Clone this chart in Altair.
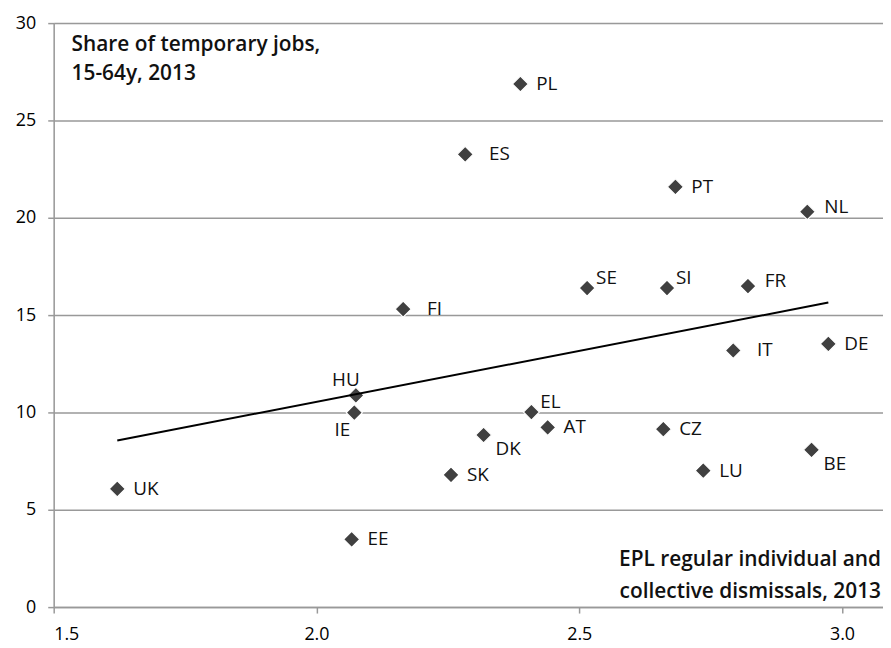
import altair as alt
import pandas as pd

countries = ["PL", "ES", "PT", "NL", "SE", "SI", "FR", "FI", "IT", "DE", "HU",
             "IE", "EL", "AT", "DK", "CZ", "BE", "LU", "SK", "UK", "EE"]
epl = [2.388, 2.283, 2.683, 2.934, 2.515, 2.667, 2.821, 2.165, 2.793, 2.974, 2.075,
       2.072, 2.409, 2.440, 2.318, 2.660, 2.942, 2.736, 2.256, 1.621, 2.067]
temp = [26.87, 23.26, 21.59, 20.31, 16.39, 16.39, 16.49, 15.31, 13.18, 13.52, 10.88,
        9.99, 10.02, 9.23, 8.84, 9.14, 8.08, 7.01, 6.79, 6.07, 3.48]

x_ticks = [1.5, 2.0, 2.5, 3.0]
y_ticks = [0, 5, 10, 15, 20, 25, 30]
title_lines = ["Share of temporary jobs,", "15-64y, 2013"]
xlabel_lines = ["EPL regular individual and", "collective dismissals, 2013"]

# which side of its marker each country label sits on
label_groups = {
    "right": ["PL", "PT", "DE", "CZ", "LU", "SK", "UK", "EE", "AT"],
    "right_far": ["ES", "IT", "FI"],
    "right_up": ["FR", "NL"],
    "up_right": ["SE", "SI", "EL"],
    "down_right": ["BE", "DK"],
    "above": ["HU"],
    "below": ["IE"],
}
placement = {
    "right": ("left", 16, 0),
    "right_far": ("left", 24, 0),
    "right_up": ("left", 17, -5),
    "up_right": ("left", 9, -10),
    "down_right": ("left", 12, 14),
    "above": ("center", -10, -15),
    "below": ("center", -12, 18),
}

FONT = "Open Sans"
GRID = "#999999"

df = pd.DataFrame({"country": countries, "epl": epl, "temp": temp})
group_of = {c: g for g, cs in label_groups.items() for c in cs}
df["group"] = df["country"].map(group_of)

W, H = 835, 588
xscale = alt.Scale(domain=[1.5, 3.078], nice=False, zero=False)
yscale = alt.Scale(domain=[0, 30], nice=False)

base = alt.Chart(df)

xenc = alt.X("epl:Q", scale=xscale,
             axis=alt.Axis(values=x_ticks, format=".1f", grid=False, title=None,
                           domainColor=GRID, domainWidth=1.5, tickColor=GRID,
                           tickWidth=1.5, tickSize=6, labelPadding=13,
                           labelFont=FONT, labelFontSize=18, labelColor="#000"))
yenc = alt.Y("temp:Q", scale=yscale,
             axis=alt.Axis(values=y_ticks, grid=True, gridColor=GRID, gridWidth=1.5,
                           title=None, domainColor=GRID, domainWidth=1.5,
                           tickColor=GRID, tickWidth=1.5, tickSize=6, labelPadding=12,
                           labelFont=FONT, labelFontSize=18, labelColor="#000"))

points = base.mark_point(shape="diamond", filled=True, size=260, color="#404040",
                         stroke="white", strokeWidth=1.2, opacity=1).encode(
    x=xenc, y=yenc)

trend = base.transform_regression("epl", "temp", method="linear").mark_line(
    color="black", strokeWidth=2).encode(
    x=alt.X("epl:Q", scale=xscale), y=alt.Y("temp:Q", scale=yscale))

label_layers = []
for g, (align, dx, dy) in placement.items():
    label_layers.append(
        base.transform_filter(alt.datum.group == g).mark_text(
            align=align, baseline="middle", dx=dx, dy=dy, font=FONT,
            fontSize=19, color="#111").encode(
            x=alt.X("epl:Q", scale=xscale), y=alt.Y("temp:Q", scale=yscale),
            text="country:N"))

anno = alt.Data(values=[{"k": 1}])
text_layers = []
for line, ypx in zip(title_lines, [22, 51]):
    text_layers.append(alt.Chart(anno).mark_text(
        text=line, align="left", baseline="middle",
        font=FONT, fontSize=21, fontWeight=600, color="#111").encode(
        x=alt.value(18), y=alt.value(ypx)))
for line, ypx in zip(xlabel_lines, [541, 573]):
    text_layers.append(alt.Chart(anno).mark_text(
        text=line, align="right", baseline="middle",
        font=FONT, fontSize=21, fontWeight=600, color="#111").encode(
        x=alt.value(833), y=alt.value(ypx)))

chart = alt.layer(points, trend, *label_layers, *text_layers).properties(
    width=W, height=H,
    autosize=alt.AutoSizeParams(type="none"),
    padding={"left": 46, "top": 13, "right": 0, "bottom": 42},
).configure_view(stroke=None).configure(background="white")

chart.save("out.html", embed_options={"renderer": "svg", "actions": False})
